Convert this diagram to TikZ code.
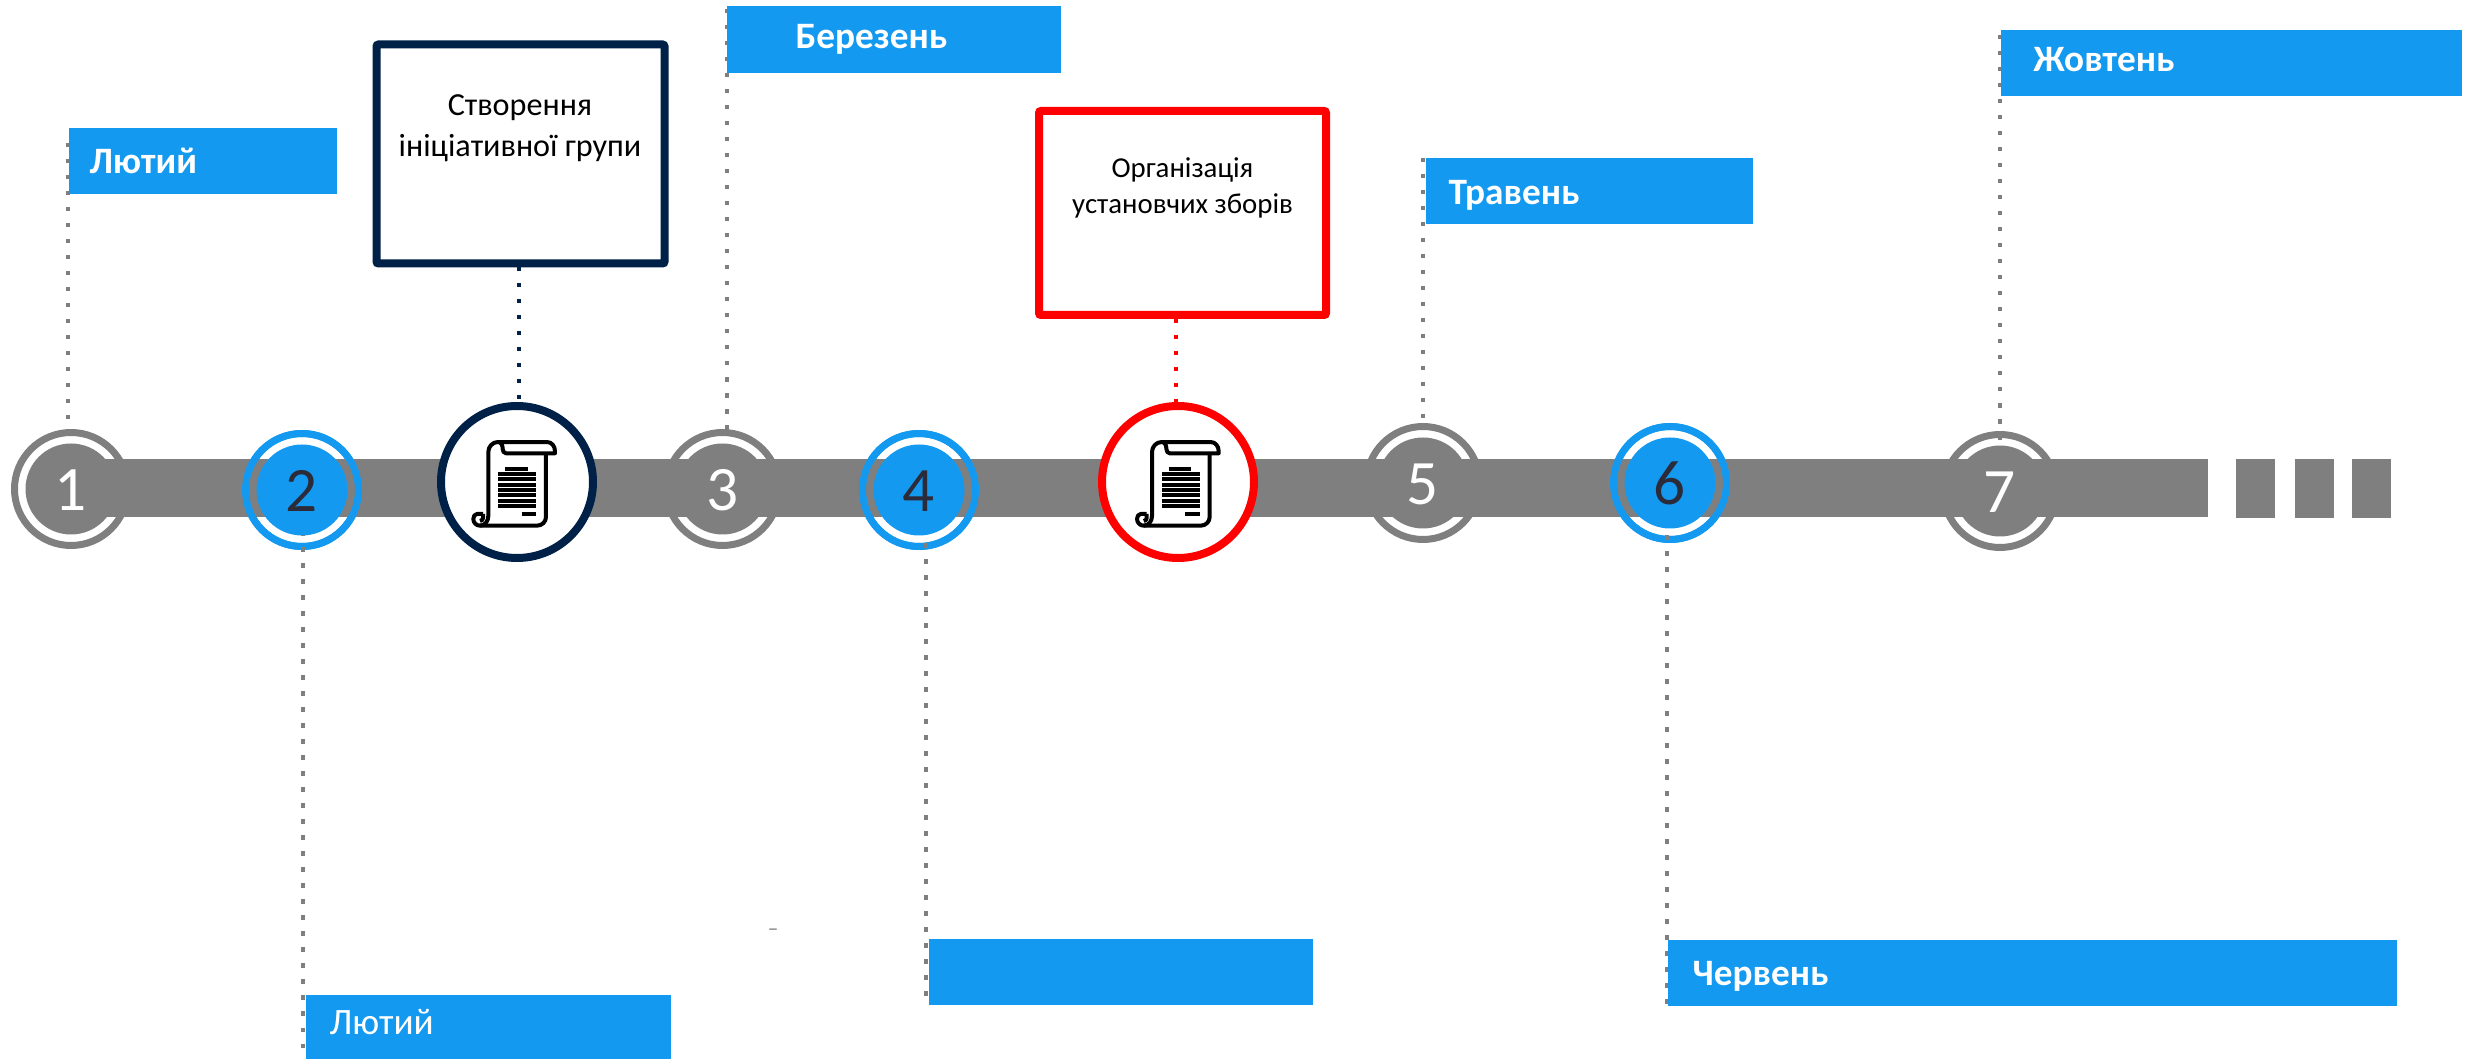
\documentclass[tikz,border=0pt]{standalone}
\usepackage{fontspec}
\setmainfont{Carlito}
\definecolor{bargray}{HTML}{7F7F7F}
\definecolor{skyblue}{HTML}{1499F0}
\definecolor{darknavy}{HTML}{002147}
\definecolor{digitdark}{HTML}{2B2B3A}
\tikzset{
  ring/.style={shape=circle,draw=#1,fill=white,line width=.07cm,
    inner sep=0pt,outer sep=0pt,minimum size=1.13cm},
  topring/.style={ring=#1,fill=none},
  disc/.style={shape=circle,fill=#1,inner sep=0pt,outer sep=0pt,
    minimum size=.91cm,text height=.43cm,font=\fontsize{18}{18}\selectfont},
  docring/.style={shape=circle,draw=#1,fill=white,line width=.08cm,
    inner sep=0pt,outer sep=0pt,minimum size=1.52cm},
  docbox/.style={draw=#1,fill=white,line width=.08cm,rounded corners=.02cm,
    inner sep=0pt,outer sep=0pt},
  doctext/.style={align=center,inner sep=0pt},
  month/.style={fill=skyblue,inner sep=0pt,outer sep=0pt},
  monthtext/.style={anchor=west,text=white,inner sep=0pt,
    font=\fontsize{10.6}{12}\selectfont\bfseries},
  stem/.style={draw=#1,line width=.045cm,dash pattern=on .045cm off .115cm},
  scrollicon/.pic={
    \draw[black,line width=.04cm,line join=round]
      (-34,-32)--(-40,-32) to[out=180,in=90] (-43.7,-37)
      to[out=-90,in=180] (-37,-43.7)--(20,-43.7)
      to[out=0,in=-90] (29,-35)--(29,28.7);
    \draw[black,line width=.04cm,line join=round]
      (-34,-32)--(-34,-36) to[out=-90,in=0] (-37,-39);
    \draw[black,line width=.04cm,line join=round]
      (-37,-43.7) to[out=0,in=-90] (-28.7,-34)--(-28.7,30)
      to[out=90,in=180] (-19,40)--(30,40) to[out=0,in=90] (38,31)
      --(38,28.7)--(-11,28.7) to[out=180,in=-90] (-14.3,33)
      to[out=90,in=0] (-19,40);
    \draw[black,line width=.042cm] (-12,13.3)--(10.7,13.3)
      (-18.7,8)--(19,8) (-18.7,2.7)--(19,2.7) (-18.7,-2.7)--(19,-2.7)
      (-18.7,-8)--(19,-8) (-18.7,-13.3)--(19,-13.3)
      (-18.7,-18.7)--(19,-18.7) (-18.7,-24)--(19,-24)
      (4.7,-32)--(19,-32);
  }
}
\begin{document}
\begin{tikzpicture}
  \useasboundingbox (0,0) rectangle (24.73,10.59);
  % rings behind the bar
  \node[ring=bargray] (r1) at (.71,5.70) {};
  \node[ring=skyblue] (r2) at (3.02,5.69) {};
  \node[ring=bargray] (r3) at (7.225,5.70) {};
  \node[ring=skyblue] (r4) at (9.19,5.69) {};
  \node[ring=bargray] (r5) at (14.23,5.76) {};
  \node[ring=skyblue] (r6) at (16.70,5.76) {};
  \node[ring=bargray] (r7) at (20.00,5.68) {};
  \fill[bargray] (.71,5.42) rectangle (22.08,6.00);
  \fill[bargray] (22.36,5.41) rectangle (22.75,6.00);
  \fill[bargray] (22.95,5.41) rectangle (23.34,6.00);
  \fill[bargray] (23.52,5.41) rectangle (23.91,6.00);
  \node[topring=skyblue] at (r2) {};
  \node[topring=skyblue] at (r4) {};
  \node[topring=skyblue] at (r6) {};
  \node[disc=bargray,text=white] (n1) at (r1) {1};
  \node[disc=skyblue,text=digitdark] (n2) at (r2) {2};
  \node[disc=bargray,text=white] (n3) at (r3) {3};
  \node[disc=skyblue,text=digitdark] (n4) at (r4) {4};
  \node[disc=bargray,text=white] (n5) at (r5) {5};
  \node[disc=skyblue,text=digitdark] (n6) at (r6) {6};
  \node[disc=bargray,text=white] (n7) at (r7) {7};
  \node[docring=darknavy] (doc1) at (5.17,5.77) {};
  \node[docring=red] (doc2) at (11.78,5.77) {};
  \pic[x=.01cm,y=.01cm] at (doc1) {scrollicon};
  \pic[x=.01cm,y=.01cm,xshift=.027cm] at (doc2) {scrollicon};
  % stems
  \coordinate (s1) at (.68,9.16);
  \coordinate (s2) at (3.03,.11);
  \coordinate (s3) at (7.27,10.50);
  \coordinate (s4) at (9.26,.63);
  \coordinate (s5) at (14.23,9.01);
  \coordinate (s6) at (16.67,.55);
  \coordinate (s7) at (20.00,10.24);
  \coordinate (s8) at (5.19,7.92);
  \coordinate (s9) at (11.76,7.40);
  \draw[stem=bargray] (s1) -- (s1 |- r1.north);
  \draw[stem=bargray] (s2) -- (s2 |- n2.south);
  \draw[stem=bargray] (s3) -- (s3 |- r3.north);
  \draw[stem=bargray] (s4) -- (s4 |- n4.south);
  \draw[stem=bargray] (s5) -- (s5 |- r5.north);
  \draw[stem=bargray] (s6) -- (s6 |- n6.south);
  \draw[stem=bargray] (s7) -- (s7 |- n7.north);
  \draw[stem=darknavy] (s8) -- (s8 |- doc1.north);
  \draw[stem=red] (s9) -- (s9 |- doc2.north);
  % boxes
  \node[docbox=darknavy,minimum width=2.88cm,minimum height=2.19cm]
    (box1) at (5.205,9.05) {};
  \node[docbox=red,minimum width=2.87cm,minimum height=2.04cm]
    (box2) at (11.825,8.46) {};
  \node[doctext,font=\fontsize{9.15}{11.6}\selectfont] (txt1) at (5.20,9.31)
    {Створення\\ініціативної групи};
  \node[doctext,font=\fontsize{8.2}{10.3}\selectfont] (txt2) at (11.825,8.71)
    {Організація\\установчих зборів};
  \node[month,minimum width=2.68cm,minimum height=.66cm] (m1) at (2.03,8.98) {};
  \node[month,minimum width=3.65cm,minimum height=.64cm] (m2) at (4.885,.32) {};
  \node[month,minimum width=3.34cm,minimum height=.67cm] (m3) at (8.94,10.195) {};
  \node[month,minimum width=3.84cm,minimum height=.66cm] (m4) at (11.21,.87) {};
  \node[month,minimum width=3.27cm,minimum height=.66cm] (m5) at (15.895,8.68) {};
  \node[month,minimum width=7.29cm,minimum height=.66cm] (m6) at (20.325,.86) {};
  \node[month,minimum width=4.61cm,minimum height=.66cm] (m7) at (22.315,9.96) {};
  \node[monthtext] (t1) at (.89,8.98) {Лютий};
  \node[monthtext,font=\fontsize{10.6}{12}\selectfont] (t2) at (3.29,.37) {Лютий};
  \node[monthtext] (t3) at (7.95,10.20) {Березень};
  \node[monthtext] (t5) at (14.48,8.64) {Травень};
  \node[monthtext] (t6) at (16.92,.83) {Червень};
  \node[monthtext] (t7) at (20.33,9.99) {Жовтень};
  \node[inner sep=0pt,text=bargray,font=\fontsize{6}{6}\selectfont] (dash) at (7.73,1.27) {–};
\end{tikzpicture}
\end{document}
